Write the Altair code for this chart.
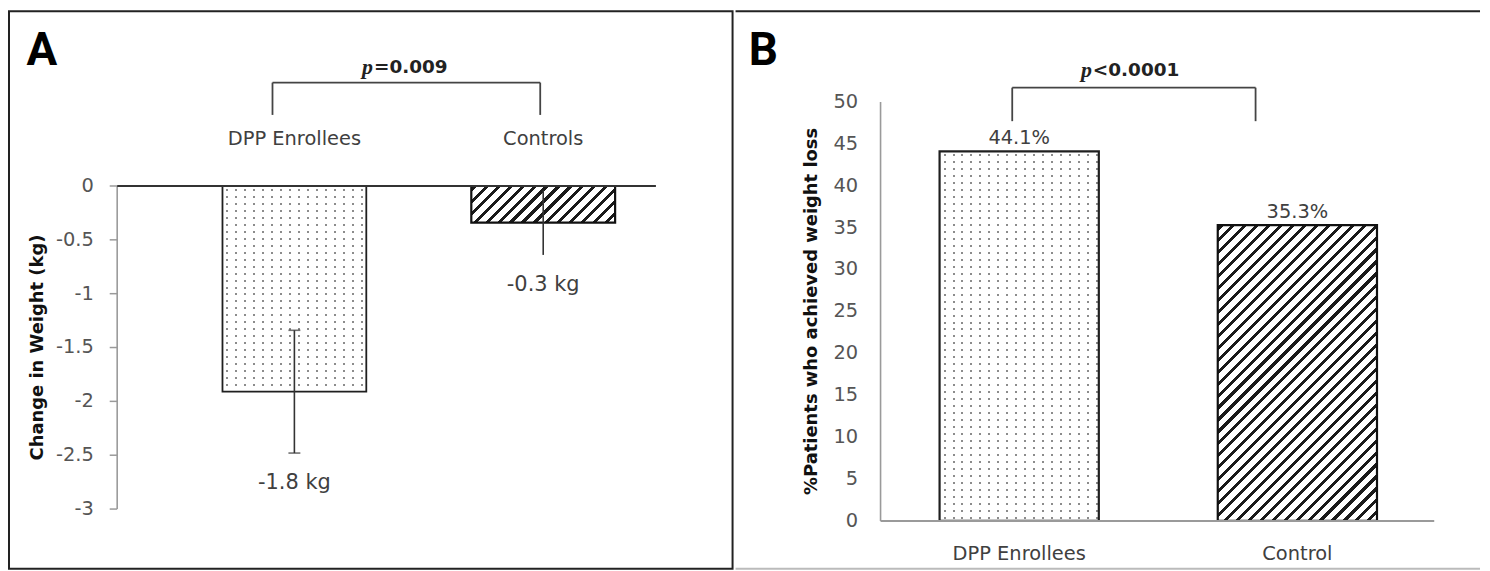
import math
import altair as alt
import pandas as pd

# ---------------- data ----------------
categories_a = ["DPP Enrollees", "Controls"]
weight_change_kg = [-1.91, -0.34]
weight_change_err = [0.57, 0.30]
value_labels_a = ["-1.8 kg", "-0.3 kg"]
ticks_a = [0, -0.5, -1, -1.5, -2, -2.5, -3]
tick_labels_a = ["0", "-0.5", "-1", "-1.5", "-2", "-2.5", "-3"]
title_a = "Change in Weight (kg)"
p_value_a = "=0.009"

categories_b = ["DPP Enrollees", "Control"]
pct_weight_loss = [44.1, 35.3]
value_labels_b = ["44.1%", "35.3%"]
ticks_b = [0, 5, 10, 15, 20, 25, 30, 35, 40, 45, 50]
tick_labels_b = ["0", "5", "10", "15", "20", "25", "30", "35", "40", "45", "50"]
title_b = "%Patients who achieved weight loss"
p_value_b = "<0.0001"

# ---------------- layout / style constants ----------------
FONT = "DejaVu Sans"
H = 560
WA, WB = 727, 748
TXT = "#404040"

A_PX, A_ZERO, A_AXIS_X = 108.2, 175.5, 108.7
B_PX, B_ZERO, B_AXIS_X = 8.42, 512.0, 145.7
A_BAND = dict(left=214.5, bw=144.5, step=250.0)
B_BAND = dict(left=205.0, bw=160.0, step=279.5)


def band_scale(domain, W, left, bw, step):
    n = len(domain)
    pi = 1 - bw / step
    po = (W / step - (n - pi)) / 2
    al = left / (W - step * (n - pi))
    return alt.Scale(domain=domain, paddingInner=pi, paddingOuter=po, align=al)


def lin_scale(px, zero):
    dmax = zero / px
    return alt.Scale(domain=[dmax - H / px, dmax], nice=False, zero=False)


def stripe_stops(length, period, width, phase, on, off):
    stops = [{"offset": 0, "color": off}]
    pos = phase
    while pos < length:
        s = max(pos, 0) / length
        e = min(pos + width, length) / length
        if e > s:
            stops += [
                {"offset": round(s, 5), "color": off},
                {"offset": round(s, 5), "color": on},
                {"offset": round(e, 5), "color": on},
                {"offset": round(e, 5), "color": off},
            ]
        pos += period
    stops.append({"offset": 1, "color": off})
    return stops


def hatch(W, Hh, period=12.0, width=4.2):
    L = W + Hh
    k = L / (W * W + Hh * Hh)
    return {"gradient": "linear", "x1": 0, "y1": 0, "x2": W * k, "y2": Hh * k,
            "stops": stripe_stops(L, period, width, 2.0, "#1a1a1a", "#ffffff")}


def dot_rows(Hh, period=7.0, width=2.0):
    return {"gradient": "linear", "x1": 0, "y1": 0, "x2": 0, "y2": 1,
            "stops": stripe_stops(Hh, period, width, 3.0, "#8c8c8c", "#ffffff")}


def dot_cols(W, period=9.0, width=2.0):
    return {"gradient": "linear", "x1": 0, "y1": 0, "x2": 1, "y2": 0,
            "stops": stripe_stops(W, period, width, 4.0,
                                  "rgba(255,255,255,0)", "#ffffff")}


one = pd.DataFrame({"_": [0]})


def panel(cats, vals, errs, labels, ticks, tick_labels, px, zero, axis_x,
          band, W, letter, title, pval, bracket, positive):
    xs = band_scale(cats, W, **band)
    ys = lin_scale(px, zero)
    X = alt.X("cat:N", scale=xs, axis=None)

    def Yf(f):
        return alt.Y(f, scale=ys, axis=None)

    def Yd(d):
        return alt.Y(datum=d, scale=ys, axis=None)

    def Xd(c):
        return alt.X(datum=c, type="nominal", scale=xs, axis=None)

    df = pd.DataFrame({"cat": cats, "val": vals, "lab": labels})
    if errs is not None:
        df["lo"] = [v - e for v, e in zip(vals, errs)]
        df["hi"] = [v + e for v, e in zip(vals, errs)]
    dft = pd.DataFrame({"v": ticks, "lab": tick_labels})
    bw = band["bw"]
    layers = []

    # y axis line, ticks and labels
    layers.append(alt.Chart(one).mark_rule(color="#9a9a9a", strokeWidth=1.6).encode(
        x=alt.value(axis_x), y=Yd(ticks[0]), y2=alt.Y2(datum=ticks[-1])))
    if not positive:
        layers.append(alt.Chart(dft).mark_rule(color="#9a9a9a", strokeWidth=1.5).encode(
            x=alt.value(axis_x - 7.5), x2=alt.value(axis_x), y=Yf("v:Q")))
        lab_x = axis_x - 23.5
    else:
        lab_x = axis_x - 22.5
    layers.append(alt.Chart(dft).mark_text(
        font=FONT, fontSize=19.5, color="#555555", align="right", baseline="middle").encode(
        x=alt.value(lab_x), y=Yf("v:Q"), text="lab:N"))

    # bars: dotted first category, hatched second
    c0, c1 = cats
    h0 = abs(vals[0]) * px
    h1 = abs(vals[1]) * px
    sw = 1.8 if not positive else 2.2
    layers.append(alt.Chart(df).transform_filter(alt.datum.cat == c0).mark_bar(
        fill=dot_rows(h0), strokeWidth=0).encode(x=X, y=Yf("val:Q"), y2=alt.Y2(datum=0)))
    layers.append(alt.Chart(df).transform_filter(alt.datum.cat == c0).mark_bar(
        fill=dot_cols(bw), stroke="#1f1f1f", strokeWidth=sw).encode(
        x=X, y=Yf("val:Q"), y2=alt.Y2(datum=0)))
    layers.append(alt.Chart(df).transform_filter(alt.datum.cat == c1).mark_bar(
        fill=hatch(bw, h1), stroke="#111111", strokeWidth=2.2).encode(
        x=X, y=Yf("val:Q"), y2=alt.Y2(datum=0)))

    if not positive:
        # zero line (category axis) across the top
        layers.append(alt.Chart(one).mark_rule(color="#333333", strokeWidth=2).encode(
            x=alt.value(axis_x), x2=alt.value(650), y=Yd(0)))
        # error bars
        layers.append(alt.Chart(df).mark_rule(color="#333333", strokeWidth=1.6).encode(
            x=X, y=Yf("lo:Q"), y2=alt.Y2("hi:Q")))
        layers.append(alt.Chart(df).transform_filter(alt.datum.cat == c0).transform_fold(
            ["lo", "hi"], as_=["k", "v"]).mark_tick(
            color="#333333", thickness=1.6, size=12).encode(x=X, y=Yf("v:Q")))
        # value labels under error bars
        layers.append(alt.Chart(df).mark_text(
            font=FONT, fontSize=21, color=TXT, baseline="middle", dy=30).encode(
            x=X, y=Yf("lo:Q"), text="lab:N"))
        # category labels above zero line
        layers.append(alt.Chart(df).mark_text(
            font=FONT, fontSize=19.5, color=TXT, baseline="middle", dy=-47).encode(
            x=X, y=Yd(0), text="cat:N"))
    else:
        # x axis line
        layers.append(alt.Chart(one).mark_rule(color="#9a9a9a", strokeWidth=2).encode(
            x=alt.value(axis_x), x2=alt.value(702), y=Yd(0)))
        # value labels above bars
        layers.append(alt.Chart(df).mark_text(
            font=FONT, fontSize=19.5, color=TXT, baseline="middle", dy=-13).encode(
            x=X, y=Yf("val:Q"), text="lab:N"))
        # category labels below axis
        layers.append(alt.Chart(df).mark_text(
            font=FONT, fontSize=19.5, color=TXT, baseline="middle", dy=33).encode(
            x=X, y=Yd(0), text="cat:N"))

    # significance bracket
    by_top, by_bot, off0, off1, split, pdy = bracket
    bc = "#444444"
    layers.append(alt.Chart(one).mark_rule(color=bc, strokeWidth=1.8, xOffset=off0,
                                           x2Offset=off1).encode(
        x=Xd(c0), x2=alt.X2(datum=c1), y=Yd(by_top)))
    layers.append(alt.Chart(one).mark_rule(color=bc, strokeWidth=1.8, xOffset=off0).encode(
        x=Xd(c0), y=Yd(by_top), y2=alt.Y2(datum=by_bot)))
    layers.append(alt.Chart(one).mark_rule(color=bc, strokeWidth=1.8, xOffset=off1).encode(
        x=Xd(c1), y=Yd(by_top), y2=alt.Y2(datum=by_bot)))
    layers.append(alt.Chart(one).mark_text(
        text="p", font="Liberation Serif", fontStyle="italic", fontWeight="bold",
        fontSize=22, color="#222222", align="right", baseline="middle",
        dx=split, dy=pdy).encode(x=Xd(c0), y=Yd(by_top)))
    layers.append(alt.Chart(one).mark_text(
        text=pval, font=FONT, fontWeight="bold", fontSize=18.5, color="#222222",
        align="left", baseline="middle", dx=split + 1, dy=pdy).encode(
        x=Xd(c0), y=Yd(by_top)))

    # axis title and panel letter
    layers.append(alt.Chart(one).mark_text(
        text=title, angle=270, font=FONT, fontWeight="bold", fontSize=18,
        color="#111111", align="center", baseline="middle").encode(
        x=alt.value(29 if not positive else 76.5),
        y=Yd((ticks[0] + ticks[-1]) / 2)))
    layers.append(alt.Chart(one).mark_text(
        text=letter, font="Roboto", fontWeight="bold", fontSize=46, color="#000000",
        align="center", baseline="alphabetic").encode(
        x=alt.value(33 if not positive else 28), y=alt.value(54)))
    return layers


layers_a = panel(categories_a, weight_change_kg, weight_change_err, value_labels_a,
                 ticks_a, tick_labels_a, A_PX, A_ZERO, A_AXIS_X, A_BAND, WA,
                 "A", title_a, p_value_a, (0.96, 0.66, -22, -3, 79, -16), False)
chart_a = alt.layer(*layers_a).properties(
    width=WA, height=H, view=alt.ViewBackground(stroke="#222222", strokeWidth=2))

layers_b = panel(categories_b, pct_weight_loss, None, value_labels_b,
                 ticks_b, tick_labels_b, B_PX, B_ZERO, B_AXIS_X, B_BAND, WB,
                 "B", title_b, p_value_b, (51.7, 47.7, -7, -42, 73, -18), True)
layers_b.append(alt.Chart(one).mark_rule(color="#222222", strokeWidth=2).encode(
    x=alt.value(0), x2=alt.value(WB), y=alt.value(0)))
layers_b.append(alt.Chart(one).mark_rule(color="#bbbbbb", strokeWidth=2).encode(
    x=alt.value(0), x2=alt.value(WB), y=alt.value(H)))
chart_b = alt.layer(*layers_b).properties(width=WB, height=H)

chart = alt.hconcat(chart_a, chart_b, spacing=0).properties(padding=0).configure_view(
    stroke="transparent")

chart.save("out.html", embed_options={"renderer": "svg", "actions": False})
